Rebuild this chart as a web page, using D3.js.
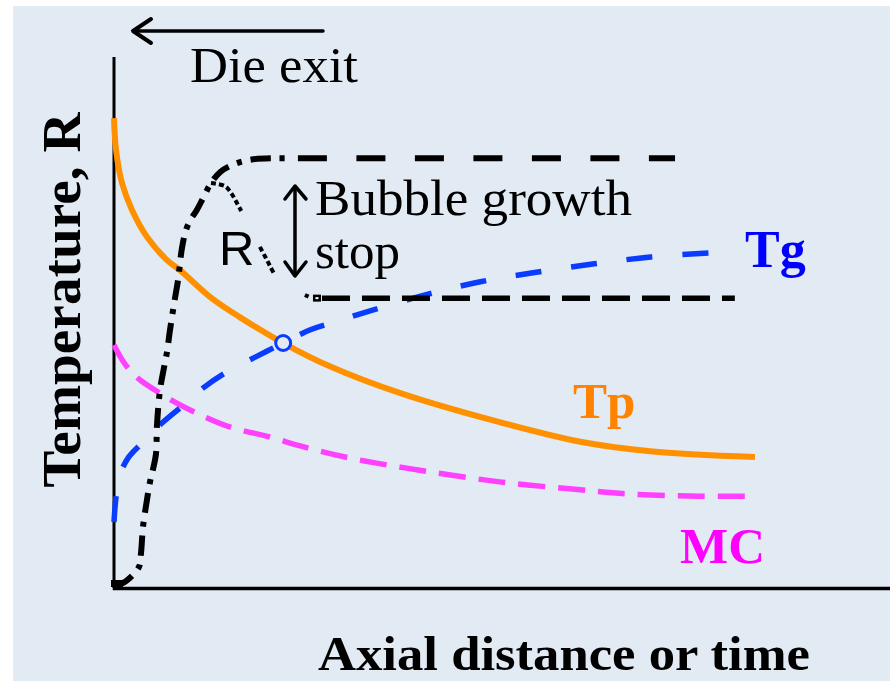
<!DOCTYPE html>
<html><head><meta charset="utf-8">
<script src="https://cdn.jsdelivr.net/npm/d3@7"></script>
<style>html,body{margin:0;padding:0;background:#fff;} svg{display:block}</style>
</head><body>
<svg id="chart" width="890" height="681"></svg>
<script>
// ---- data (arbitrary units: axial distance 0-100, temperature/R 0-100) ----
const tpDist = [0, 0.26, 1.03, 2.32, 4.25, 6.83, 8.5, 12.4, 16.2, 21.8, 27.8, 36.9, 49.7, 60.1, 69.1, 82.6];
const tpTemp = [89.0, 83.0, 76.7, 71.6, 66.5, 62.1, 60.2, 55.1, 51.3, 46.4, 42.0, 36.9, 31.4, 27.7, 25.9, 24.8];

const tgDist = [0, 0.26, 0.77, 1.8, 3.35, 5.93, 8.5, 11.5, 14.3, 17.5, 21.8, 25.3, 28.5, 33.0, 40.1, 47.2, 54.4, 61.9, 69.2, 78.6];
const tgTemp = [12.5, 17.2, 21.4, 24.6, 27.1, 30.9, 34.1, 37.9, 40.7, 43.2, 46.4, 48.9, 50.4, 52.5, 55.5, 58.0, 59.8, 61.4, 62.7, 63.6];

const mcDist = [0, 0.77, 1.68, 3.35, 5.28, 7.86, 11.1, 14.9, 20.1, 24.0, 30.4, 39.4, 49.7, 60.1, 66.5, 75.5, 82.0];
const mcVal  = [46.0, 43.9, 41.9, 39.4, 37.5, 35.2, 32.8, 30.5, 28.6, 26.9, 24.6, 22.3, 20.1, 18.6, 17.8, 17.4, 17.4];

const rGrowDist = [0.13, 1.55, 3.22, 3.48, 3.74, 4.25, 4.64, 5.03, 5.41, 5.54, 5.93, 6.44, 6.83, 7.22, 7.86, 8.25, 8.76, 9.28, 9.92, 10.6, 11.5, 12.5, 13.7, 15.2, 17.5, 20.7, 22.6];
const rGrowVal  = [0.4, 1.3, 4.0, 6.6, 11.6, 16.7, 20.1, 22.5, 25.4, 30.9, 37.5, 41.7, 44.7, 48.9, 54.9, 58.3, 64.4, 67.8, 69.9, 71.4, 73.9, 76.7, 78.8, 80.1, 81.1, 81.4, 81.4];

const rFreeDist = [23.7, 72.3];
const rFreeVal  = [81.4, 81.4];

const rStopADist = [12.5, 14.3, 15.1, 15.7, 16.4];
const rStopAVal  = [76.7, 76.1, 74.8, 73.3, 71.4];
const rStopBDist = [18.8, 19.5, 20.1, 20.7];
const rStopBVal  = [64.6, 62.7, 61.0, 59.3];
const rStopCDist = [24.6, 25.5];
const rStopCVal  = [55.5, 54.9];
const rStopLevelDist = [26.8, 80.0];
const rStopLevelVal  = [54.9, 54.9];

const crossPoint = [21.8, 46.4];

// ---- drawing ----
const W = 890, H = 681;
const BG = '#e2eaf4';
const svg = d3.select('#chart');
svg.append('rect').attr('x', 13).attr('y', 6).attr('width', W - 13).attr('height', H - 6).attr('fill', BG);

const x = d3.scaleLinear().domain([0, 100]).range([114, 890]);
const y = d3.scaleLinear().domain([0, 100]).range([588, 60]);
const zip = (a, b) => a.map((v, i) => [v, b[i]]);
const lineGen = d3.line().x(d => x(d[0])).y(d => y(d[1])).curve(d3.curveCatmullRom.alpha(0.5));
const straight = d3.line().x(d => x(d[0])).y(d => y(d[1]));

// axes
const gx = svg.append('g').attr('transform', `translate(0,${y(0)})`)
  .call(d3.axisBottom(x).tickValues([]).tickSizeOuter(0));
gx.select('.domain').attr('stroke', '#000').attr('stroke-width', 3.5).attr('stroke-linecap', 'square');
const gy = svg.append('g').attr('transform', `translate(${x(0)},0)`)
  .call(d3.axisLeft(y).tickValues([]).tickSizeOuter(0));
gy.select('.domain').attr('stroke', '#000').attr('stroke-width', 3)
  .attr('d', `M0,${y(0)}V${y(100) - 3}`);

const plot = svg.append('g').attr('fill', 'none');

// MC
plot.append('path').attr('d', lineGen(zip(mcDist, mcVal)))
  .attr('stroke', '#ff40ff').attr('stroke-width', 5.5).attr('stroke-dasharray', '27,13');
// Tg
plot.append('path').attr('d', lineGen(zip(tgDist, tgTemp)))
  .attr('stroke', '#0a3cff').attr('stroke-width', 5.5).attr('stroke-dasharray', '26,30');
// Tp
plot.append('path').attr('d', lineGen(zip(tpDist, tpTemp)))
  .attr('stroke', '#ff9100').attr('stroke-width', 6);

// R curves
plot.append('path').attr('d', lineGen(zip(rGrowDist, rGrowVal)))
  .attr('stroke', '#000').attr('stroke-width', 6).attr('stroke-dasharray', '20,9,5,9');
plot.append('path').attr('d', straight(zip(rFreeDist, rFreeVal)))
  .attr('stroke', '#000').attr('stroke-width', 6).attr('stroke-dasharray', '29,29.5');
[[rStopADist, rStopAVal], [rStopBDist, rStopBVal]].forEach(([a, b]) => {
  plot.append('path').attr('d', lineGen(zip(a, b)))
    .attr('stroke', '#000').attr('stroke-width', 4).attr('stroke-dasharray', '5,3');
});
plot.append('path').attr('d', straight(zip(rStopCDist, rStopCVal)))
  .attr('stroke', '#000').attr('stroke-width', 4).attr('stroke-dasharray', '4,4');
plot.append('path').attr('d', straight(zip(rStopLevelDist, rStopLevelVal)))
  .attr('stroke', '#000').attr('stroke-width', 5.5).attr('stroke-dasharray', '28,12');
// small markers at curve ends
svg.append('rect').attr('x', x(rStopLevelDist[0]) - 9).attr('y', y(rStopLevelVal[0]) - 3.5)
  .attr('width', 8).attr('height', 7).attr('fill', '#000');
svg.append('rect').attr('x', x(rStopLevelDist[0]) - 6.5).attr('y', y(rStopLevelVal[0]) - 1)
  .attr('width', 3).attr('height', 2).attr('fill', '#fff');
svg.append('rect').attr('x', x(0) - 3).attr('y', y(0) - 8).attr('width', 12).attr('height', 7).attr('fill', '#000');

// intersection circle
svg.append('circle').attr('cx', x(crossPoint[0])).attr('cy', y(crossPoint[1])).attr('r', 7.5)
  .attr('fill', BG).attr('stroke', '#0a3cff').attr('stroke-width', 3);

// arrows
const ann = svg.append('g').attr('fill', 'none').attr('stroke', '#000')
  .attr('stroke-linecap', 'round').attr('stroke-linejoin', 'round');
ann.append('path').attr('d', 'M323,31H134').attr('stroke-width', 3.5);
ann.append('path').attr('d', 'M151,19L133,31L151,43').attr('stroke-width', 4);
ann.append('path').attr('d', 'M295,187V275').attr('stroke-width', 3.5);
ann.append('path').attr('d', 'M285,199L295,186L306,199').attr('stroke-width', 3.5);
ann.append('path').attr('d', 'M285,262L295,276L306,262').attr('stroke-width', 3.5);

// texts
const serif = '"Liberation Serif", "Times New Roman", Times, serif';
const txt = (s, px, py, size, opts = {}) => {
  const t = svg.append('text').attr('x', px).attr('y', py).text(s)
    .attr('font-family', opts.family || serif).attr('font-size', size)
    .attr('font-weight', opts.bold ? 'bold' : 'normal').attr('fill', opts.fill || '#000');
  if (opts.len) t.attr('textLength', opts.len).attr('lengthAdjust', 'spacingAndGlyphs');
  return t;
};
txt('Die exit', 190, 82, 51, {len: 168});
txt('Bubble growth', 315, 215, 51, {len: 317});
txt('stop', 315, 268, 51, {len: 85});
txt('R', 219, 265, 49, {family: '"Liberation Sans", Arial, sans-serif'});
txt('Tg', 745, 267, 52, {bold: true, fill: '#0000ff'});
txt('Tp', 573, 418, 51, {bold: true, fill: '#ff8200'});
txt('MC', 680, 563, 51, {bold: true, fill: '#ff00ff'});
txt('Axial distance or time', 318, 670, 48, {bold: true, len: 492});
svg.append('text').attr('transform', 'translate(80,300) rotate(-90)').attr('text-anchor', 'middle')
  .attr('font-family', serif).attr('font-size', 55).attr('font-weight', 'bold')
  .attr('textLength', 375).attr('lengthAdjust', 'spacingAndGlyphs').text('Temperature, R');
</script>
</body></html>
